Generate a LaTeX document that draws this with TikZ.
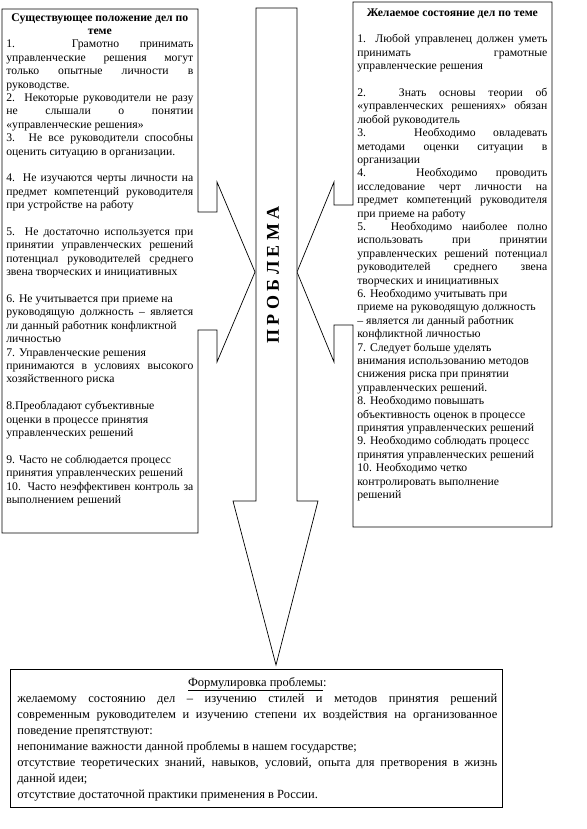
\documentclass[tikz,border=0pt]{standalone}
\usepackage{fontspec}
\setmainfont{Liberation Serif}
\usetikzlibrary{positioning}
\tolerance=10000
\hbadness=10000
\lineskiplimit=-5pt
\newcommand{\emptyrow}{\par\vspace{\baselineskip}}

\begin{document}
\begin{tikzpicture}[
  x=1pt, y=-1pt,
  line width=0.7pt,
  outline/.style={draw, fill=white, line join=miter},
  sidetext/.style={anchor=north west, inner sep=0pt, text width=187pt, align=justify,
    font=\fontsize{11.7}{13.4}\selectfont},
]
  \useasboundingbox (0,0) rectangle (586,829);

  % Current state, arrow callout to the right
  \draw[outline] (2,9) -- (198,9) -- (198,212) -- (217,212) -- (217,182) -- (255,272)
    -- (217,362) -- (217,330) -- (198,330) -- (198,533) -- (2,533) -- cycle;
  \node[sidetext] (current) at (6,13) {%
    {\centering\bfseries Существующее положение дел по\\ теме\par}
    1. Грамотно принимать\linebreak управленческие решения могут\linebreak только опытные личности в\linebreak руководстве.\par
    2. Некоторые руководители не разу\linebreak не слышали о понятии\linebreak «управленческие решения»\par
    3. Не все руководители способны\linebreak оценить ситуацию в организации.\emptyrow
    4. Не изучаются черты личности на\linebreak предмет компетенций руководителя\linebreak при устройстве на работу\emptyrow
    5. Не достаточно используется при\linebreak принятии управленческих решений\linebreak потенциал руководителей среднего\linebreak звена творческих и инициативных\emptyrow
    6. Не учитывается при приеме на\newline руководящую должность – является\linebreak ли данный работник конфликтной\newline личностью\par
    7. Управленческие решения\newline принимаются в условиях высокого\linebreak хозяйственного риска\emptyrow
    8.Преобладают субъективные\newline оценки в процессе принятия\newline управленческих решений\emptyrow
    9. Часто не соблюдается процесс\newline принятия управленческих решений\par
    10. Часто неэффективен контроль за\linebreak выполнением решений};

  % Desired state, arrow callout to the left
  \draw[outline] (353,2) -- (552,2) -- (552,527) -- (353,527) -- (353,325) -- (334,325)
    -- (334,362) -- (297,272) -- (334,182) -- (334,205) -- (353,205) -- cycle;
  \node[sidetext, text width=190pt] (desired) at (357,8) {%
    {\centering\bfseries Желаемое состояние дел по теме\par}\emptyrow
    1. Любой управленец должен уметь\linebreak принимать грамотные\linebreak управленческие решения\emptyrow
    2. Знать основы теории об\linebreak «управленческих решениях» обязан\linebreak любой руководитель\par
    3. Необходимо овладевать\linebreak методами оценки ситуации в\linebreak организации\par
    4. Необходимо проводить\linebreak исследование черт личности на\linebreak предмет компетенций руководителя\linebreak при приеме на работу\par
    5. Необходимо наиболее полно\linebreak использовать при принятии\linebreak управленческих решений потенциал\linebreak руководителей среднего звена\linebreak творческих и инициативных\par
    6. Необходимо учитывать при\newline приеме на руководящую должность\newline – является ли данный работник\newline конфликтной личностью\par
    7. Следует больше уделять\newline внимания использованию методов\newline снижения риска при принятии\newline управленческих решений.\par
    8. Необходимо повышать\newline объективность оценок в процессе\newline принятия управленческих решений\par
    9. Необходимо соблюдать процесс\newline принятия управленческих решений\par
    10. Необходимо четко\newline контролировать выполнение\newline решений};

  % Big arrow down
  \draw[outline] (256,8) -- (297,8) -- (297,501) -- (318,501) -- (276,665) -- (233,501)
    -- (256,501) -- cycle;
  \node[rotate=90, font=\bfseries\fontsize{18}{20}\selectfont] (problem) at (273,275) {П Р О Б Л Е М А};

  % Problem statement
  \draw[outline] (10,669) rectangle (502,807);
  \node[sidetext, text width=480pt, font=\fontsize{12.5}{16}\selectfont] (statement) at (17,677) {%
    {\centering\underline{Формулировка проблемы}:\par}
    желаемому состоянию дел – изучению стилей и методов принятия решений\linebreak современным руководителем и изучению степени их воздействия на организованное\linebreak поведение препятствуют:\par
    непонимание важности данной проблемы в нашем государстве;\par
    отсутствие теоретических знаний, навыков, условий, опыта для претворения в жизнь\linebreak данной идеи;\par
    отсутствие достаточной практики применения в России.};

\end{tikzpicture}
\end{document}
